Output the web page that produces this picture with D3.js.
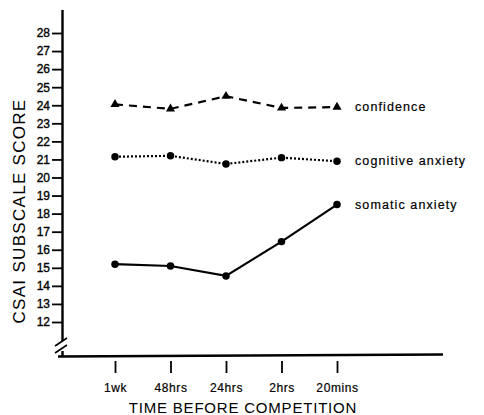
<!DOCTYPE html>
<html lang="en">
<head>
<meta charset="UTF-8">
<style>
  body { margin: 0; background: #fff; }
  svg text { font-family: "Liberation Sans", Arial, sans-serif; fill: #000; }
</style>
</head>
<body>
<div id="chart"></div>
<script src="https://cdn.jsdelivr.net/npm/d3@7"></script>
<script>
  var times = ["1wk", "48hrs", "24hrs", "2hrs", "20mins"];
  var yTicks = [12, 13, 14, 15, 16, 17, 18, 19, 20, 21, 22, 23, 24, 25, 26, 27, 28];

  var confidence = [24.05, 23.8, 24.5, 23.85, 23.9];
  var cognitive = [21.15, 21.2, 20.75, 21.1, 20.9];
  var somatic = [15.2, 15.1, 14.55, 16.45, 18.5];

  var seriesNames = ["confidence", "cognitive anxiety", "somatic anxiety"];

  var width = 484, height = 415;

  var svg = d3.select("#chart").append("svg")
      .attr("width", width)
      .attr("height", height);

  var x = d3.scalePoint()
      .domain(times)
      .range([115, 337]);

  var y = d3.scaleLinear()
      .domain([12, 28])
      .range([322, 33]);

  // axis lines, with the break near the origin
  svg.append("line")
      .attr("x1", 62.5).attr("x2", 62.5)
      .attr("y1", 10).attr("y2", 341)
      .attr("stroke", "#000").attr("stroke-width", 2.4);
  svg.append("line")
      .attr("x1", 62.5).attr("x2", 62.5)
      .attr("y1", 351).attr("y2", 357)
      .attr("stroke", "#000").attr("stroke-width", 2.4);
  svg.append("line")
      .attr("x1", 55).attr("x2", 67)
      .attr("y1", 346).attr("y2", 338)
      .attr("stroke", "#000").attr("stroke-width", 1.6);
  svg.append("line")
      .attr("x1", 55).attr("x2", 67)
      .attr("y1", 353).attr("y2", 345)
      .attr("stroke", "#000").attr("stroke-width", 1.6);
  svg.append("line")
      .attr("x1", 58).attr("x2", 443)
      .attr("y1", 356.5).attr("y2", 354.5)
      .attr("stroke", "#000").attr("stroke-width", 2.4);

  // y axis ticks
  var yAxis = svg.append("g")
      .attr("transform", "translate(62,0)")
      .call(d3.axisLeft(y).tickValues(yTicks).tickSize(10).tickPadding(2));
  yAxis.select(".domain").remove();
  yAxis.selectAll(".tick line").attr("stroke", "#000").attr("stroke-width", 1.8);
  yAxis.selectAll(".tick text")
      .style("font-size", "12px")
      .style("font-family", "'Liberation Sans', Arial, sans-serif")
      .attr("fill", "#000")
      .attr("stroke", "#000")
      .attr("stroke-width", 0.35);

  // x axis ticks
  var xAxis = svg.append("g")
      .attr("transform", "translate(0,361)")
      .call(d3.axisBottom(x).tickSize(12).tickPadding(10));
  xAxis.select(".domain").remove();
  xAxis.selectAll(".tick line").attr("stroke", "#000").attr("stroke-width", 1.8);
  xAxis.selectAll(".tick text")
      .style("font-size", "12px")
      .style("letter-spacing", "0.6px")
      .style("font-family", "'Liberation Sans', Arial, sans-serif")
      .attr("fill", "#000")
      .attr("stroke", "#000")
      .attr("stroke-width", 0.2);

  // axis titles
  svg.append("text")
      .attr("x", 243).attr("y", 413)
      .attr("text-anchor", "middle")
      .style("font-size", "15px")
      .style("letter-spacing", "0.8px")
      .text("TIME BEFORE COMPETITION");

  svg.append("text")
      .attr("transform", "translate(25,211) rotate(-90)")
      .attr("text-anchor", "middle")
      .style("font-size", "17px")
      .style("letter-spacing", "1.3px")
      .text("CSAI SUBSCALE SCORE");

  var line = d3.line()
      .x(function(d, i) { return x(times[i]); })
      .y(function(d) { return y(d); });

  var series = [
    { name: seriesNames[0], values: confidence, dash: "8,6", marker: "triangle" },
    { name: seriesNames[1], values: cognitive, dash: "2,2", marker: "circle" },
    { name: seriesNames[2], values: somatic, dash: null, marker: "circle" }
  ];

  series.forEach(function(s) {
    svg.append("path")
        .datum(s.values)
        .attr("fill", "none")
        .attr("stroke", "#000")
        .attr("stroke-width", 2.2)
        .attr("stroke-dasharray", s.dash)
        .attr("d", line);

    svg.selectAll(null)
        .data(s.values)
      .enter().append("path")
        .attr("transform", function(d, i) { return "translate(" + x(times[i]) + "," + y(d) + ")"; })
        .attr("d", d3.symbol()
            .type(s.marker === "triangle" ? d3.symbolTriangle : d3.symbolCircle)
            .size(s.marker === "triangle" ? 36 : 44))
        .attr("fill", "#000");

    var last = s.values[s.values.length - 1];
    svg.append("text")
        .attr("x", x(times[times.length - 1]) + 18)
        .attr("y", y(last) + 4)
        .style("font-size", "12.5px")
        .style("letter-spacing", "1.1px")
        .attr("stroke", "#000")
        .attr("stroke-width", 0.2)
        .text(s.name);
  });
</script>
</body>
</html>
